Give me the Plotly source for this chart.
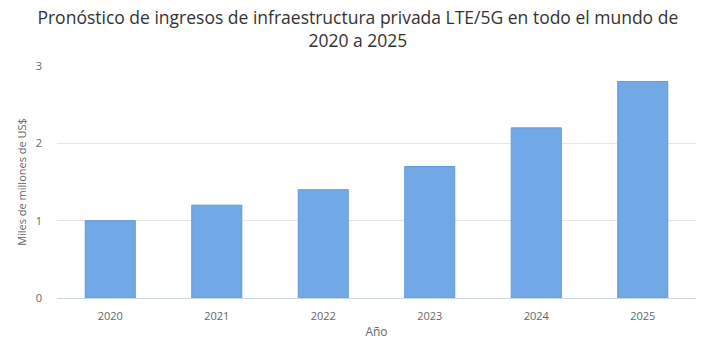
import plotly.graph_objects as go

years = ["2020", "2021", "2022", "2023", "2024", "2025"]
revenue = [1.0, 1.2, 1.4, 1.7, 2.2, 2.8]

fig = go.Figure(go.Bar(
    x=years, y=revenue,
    marker=dict(color="#70a9e5", line=dict(color="#5f9bdc", width=1)),
))

fig.update_layout(
    width=720, height=340,
    margin=dict(l=57, r=24, t=66, b=42, autoexpand=False),
    paper_bgcolor="white", plot_bgcolor="white",
    bargap=0.53,
    showlegend=False,
    title=dict(
        text="Pronóstico de ingresos de infraestructura privada LTE/5G en todo el mundo de<br>2020 a 2025",
        x=0.497, xanchor="center", xref="container", y=0.93, yanchor="middle", yref="container",
        font=dict(family="Open Sans", size=17.5, color="#333333"),
    ),
    font=dict(family="Open Sans", color="#666666"),
    xaxis=dict(
        type="category", automargin=False,
        title=dict(text="Año", font=dict(size=12, color="#666666"), standoff=6),
        tickfont=dict(size=11, color="#666666"),
        ticklabelstandoff=8,
        showline=True, linecolor="#ccd6eb", linewidth=1,
        ticks="", showgrid=False,
    ),
    yaxis=dict(
        range=[0, 3], tickvals=[0, 1, 2, 3], automargin=False,
        title=dict(text="Miles de millones de US$", font=dict(size=11, color="#666666"), standoff=6),
        tickfont=dict(size=11, color="#666666"),
        ticklabelstandoff=14,
        showgrid=True, gridcolor="#e6e6e6", zeroline=False,
        ticks="",
    ),
)

fig.write_html("out.html")
